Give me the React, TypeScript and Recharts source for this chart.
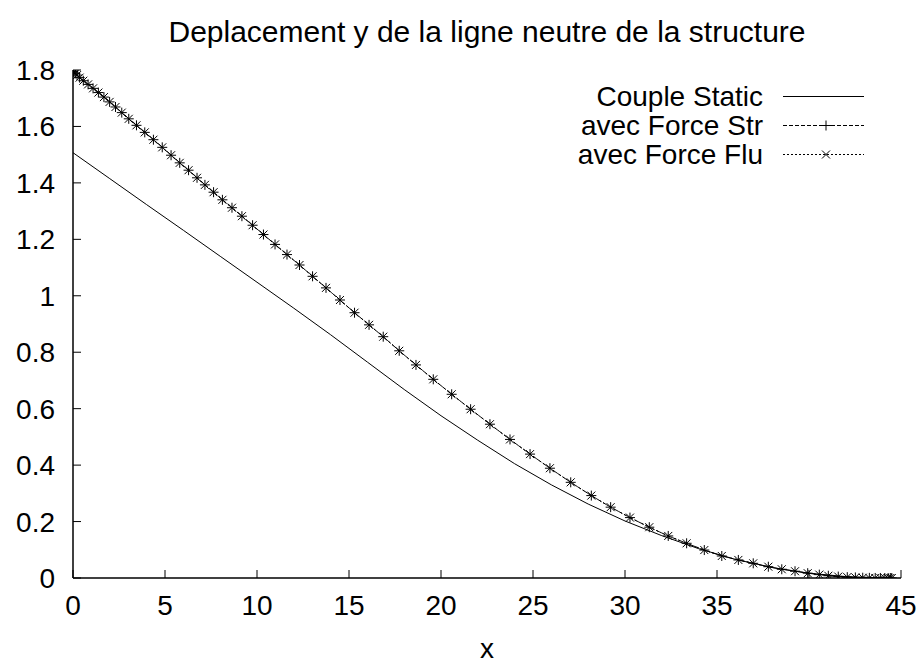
import { LineChart, Line, XAxis, YAxis } from "recharts";

const FONT = '"Liberation Sans", Arial, Helvetica, sans-serif';

const title = "Deplacement y de la ligne neutre de la structure";
const xLabel = "x";

const xTicks = [0, 5, 10, 15, 20, 25, 30, 35, 40, 45];
const yTicks = [0, 0.2, 0.4, 0.6, 0.8, 1, 1.2, 1.4, 1.6, 1.8];

// Couple Static (solid line, no markers)
const staticX = [0, 2, 4, 6, 8, 10, 12, 14, 16, 18, 20, 22, 24, 26, 28, 30, 32, 34, 36, 38, 40, 42, 44, 44.5];
const staticY = [
  1.507, 1.415, 1.323, 1.232, 1.14, 1.048, 0.956, 0.862, 0.765, 0.668, 0.575, 0.488, 0.405, 0.33, 0.262,
  0.202, 0.15, 0.104, 0.066, 0.037, 0.017, 0.005, 0.0005, 0,
];

// sample positions shared by the two forced runs
const markerX = [
  0, 0.04, 0.12, 0.22, 0.36, 0.56, 0.82, 1.09, 1.38, 1.68, 1.99, 2.31, 2.65, 3.03, 3.45, 3.9, 4.37, 4.85,
  5.33, 5.8, 6.28, 6.74, 7.17, 7.64, 8.12, 8.64, 9.18, 9.76, 10.35, 10.98, 11.63, 12.31, 13.02, 13.75,
  14.51, 15.3, 16.09, 16.86, 17.73, 18.64, 19.58, 20.58, 21.61, 22.66, 23.75, 24.84, 25.92, 27.05, 28.17,
  29.22, 30.27, 31.32, 32.35, 33.35, 34.31, 35.26, 36.16, 36.97, 37.79, 38.52, 39.24, 39.93, 40.56, 41.05,
  41.59, 42.08, 42.52, 42.92, 43.28, 43.6, 43.88, 44.12, 44.3, 44.42, 44.5,
];
const strY = [
  1.795, 1.792, 1.788, 1.782, 1.773, 1.762, 1.749, 1.735, 1.72, 1.704, 1.687, 1.669, 1.649, 1.627, 1.604,
  1.579, 1.553, 1.526, 1.498, 1.471, 1.445, 1.418, 1.393, 1.367, 1.34, 1.312, 1.282, 1.25, 1.217, 1.182,
  1.146, 1.109, 1.069, 1.028, 0.985, 0.94, 0.897, 0.855, 0.805, 0.755, 0.704, 0.651, 0.598, 0.545, 0.491,
  0.439, 0.389, 0.339, 0.292, 0.251, 0.214, 0.18, 0.149, 0.123, 0.099, 0.078, 0.064, 0.052, 0.04, 0.031,
  0.024, 0.017, 0.012, 0.008, 0.005, 0.003, 0.002, 0.001, 0.0005, 0.0002, 0.0001, 0, 0, 0, 0,
];
// the fluid run sits on top of the structural one
const fluY = [...strY];

const legendItems = [
  { name: "Couple Static", dash: undefined as string | undefined, marker: "none" },
  { name: "avec Force Str", dash: "4 2", marker: "plus" },
  { name: "avec Force Flu", dash: "2 2", marker: "cross" },
];

const staticData = staticX.map((x, i) => ({ x, y: staticY[i] }));
const strData = markerX.map((x, i) => ({ x, y: strY[i] }));
const fluData = markerX.map((x, i) => ({ x, y: fluY[i] }));

function markerPath(kind: string, cx: number, cy: number) {
  if (kind === "plus") return `M${cx - 5},${cy}H${cx + 5}M${cx},${cy - 5}V${cy + 5}`;
  if (kind === "cross") return `M${cx - 4},${cy - 4}L${cx + 4},${cy + 4}M${cx - 4},${cy + 4}L${cx + 4},${cy - 4}`;
  return "";
}

const renderPlus = (p: any) => (
  <path key={`p-${p.index}`} d={markerPath("plus", p.cx, p.cy)} stroke="#000" strokeWidth={1} fill="none" />
);
const renderCross = (p: any) => (
  <path key={`c-${p.index}`} d={markerPath("cross", p.cx, p.cy)} stroke="#000" strokeWidth={1} fill="none" />
);

const BottomTick = ({ x, y, payload }: any) => (
  <g>
    <line x1={x} x2={x} y1={y} y2={y - 8} stroke="#000" />
    <text x={x} y={y + 37} textAnchor="middle" fontSize={28} fontFamily={FONT} fill="#000">
      {payload.value}
    </text>
  </g>
);

const LeftTick = ({ x, y, payload }: any) => (
  <g>
    <line x1={x} x2={x + 8} y1={y} y2={y} stroke="#000" />
    <text x={x - 18} y={y + 10} textAnchor="end" fontSize={28} fontFamily={FONT} fill="#000">
      {payload.value}
    </text>
  </g>
);

const TopTick = ({ x, y }: any) => <line x1={x} x2={x} y1={y} y2={y + 8} stroke="#000" />;
const RightTick = ({ x, y }: any) => <line x1={x} x2={x - 8} y1={y} y2={y} stroke="#000" />;

function LegendBox() {
  return (
    <div style={{ position: "absolute", left: 460, top: 82, fontFamily: FONT, fontSize: 28 }}>
      {legendItems.map((item) => (
        <div key={item.name} style={{ display: "flex", alignItems: "center", height: 29 }}>
          <div style={{ width: 303, textAlign: "right", lineHeight: "29px", whiteSpace: "nowrap" }}>{item.name}</div>
          <svg width={101} height={29} style={{ display: "block" }}>
            <line x1={20} x2={101} y1={14.5} y2={14.5} stroke="#000" strokeWidth={1} strokeDasharray={item.dash} />
            <path d={markerPath(item.marker, 63, 14.5)} stroke="#000" strokeWidth={1} fill="none" />
          </svg>
        </div>
      ))}
    </div>
  );
}

export default function App() {
  return (
    <div style={{ position: "absolute", left: 0, top: 0, width: 922, height: 671, background: "#fff" }}>
      <LineChart width={922} height={671} margin={{ top: 70, right: 21, bottom: 0, left: 0 }}>
        <XAxis
          xAxisId="b"
          dataKey="x"
          type="number"
          domain={[0, 45]}
          ticks={xTicks}
          allowDataOverflow
          height={93}
          tickSize={0}
          tickMargin={0}
          tickLine={false}
          tick={<BottomTick />}
          axisLine={{ stroke: "#000", strokeWidth: 1.5 }}
          interval={0}
        />
        <XAxis
          xAxisId="t"
          orientation="top"
          dataKey="x"
          type="number"
          domain={[0, 45]}
          ticks={xTicks}
          allowDataOverflow
          height={0}
          tickSize={0}
          tickMargin={0}
          tickLine={false}
          tick={<TopTick />}
          axisLine={{ stroke: "#000", strokeWidth: 1.5 }}
          interval={0}
        />
        <YAxis
          yAxisId="l"
          type="number"
          domain={[0, 1.8]}
          ticks={yTicks}
          allowDataOverflow
          width={73}
          tickSize={0}
          tickMargin={0}
          tickLine={false}
          tick={<LeftTick />}
          axisLine={{ stroke: "#000", strokeWidth: 1.5 }}
          interval={0}
        />
        <YAxis
          yAxisId="r"
          orientation="right"
          type="number"
          domain={[0, 1.8]}
          ticks={yTicks}
          allowDataOverflow
          width={0}
          tickSize={0}
          tickMargin={0}
          tickLine={false}
          tick={<RightTick />}
          axisLine={{ stroke: "#000", strokeWidth: 1.5 }}
          interval={0}
        />
        <Line
          xAxisId="b"
          yAxisId="l"
          data={staticData}
          dataKey="y"
          type="linear"
          stroke="#000"
          strokeWidth={1}
          dot={false}
          isAnimationActive={false}
        />
        <Line
          xAxisId="b"
          yAxisId="l"
          data={strData}
          dataKey="y"
          type="linear"
          stroke="#000"
          strokeWidth={1}
          strokeDasharray="4 2"
          dot={renderPlus}
          isAnimationActive={false}
        />
        <Line
          xAxisId="b"
          yAxisId="l"
          data={fluData}
          dataKey="y"
          type="linear"
          stroke="#000"
          strokeWidth={1}
          strokeDasharray="2 2"
          dot={renderCross}
          isAnimationActive={false}
        />
      </LineChart>
      <div
        style={{
          position: "absolute",
          left: 73,
          width: 828,
          top: 15,
          textAlign: "center",
          fontFamily: FONT,
          fontSize: 30,
          lineHeight: "34px",
          whiteSpace: "nowrap",
        }}
      >
        {title}
      </div>
      <div
        style={{
          position: "absolute",
          left: 73,
          width: 828,
          top: 633,
          textAlign: "center",
          fontFamily: FONT,
          fontSize: 28,
          lineHeight: "32px",
        }}
      >
        {xLabel}
      </div>
      <LegendBox />
    </div>
  );
}
